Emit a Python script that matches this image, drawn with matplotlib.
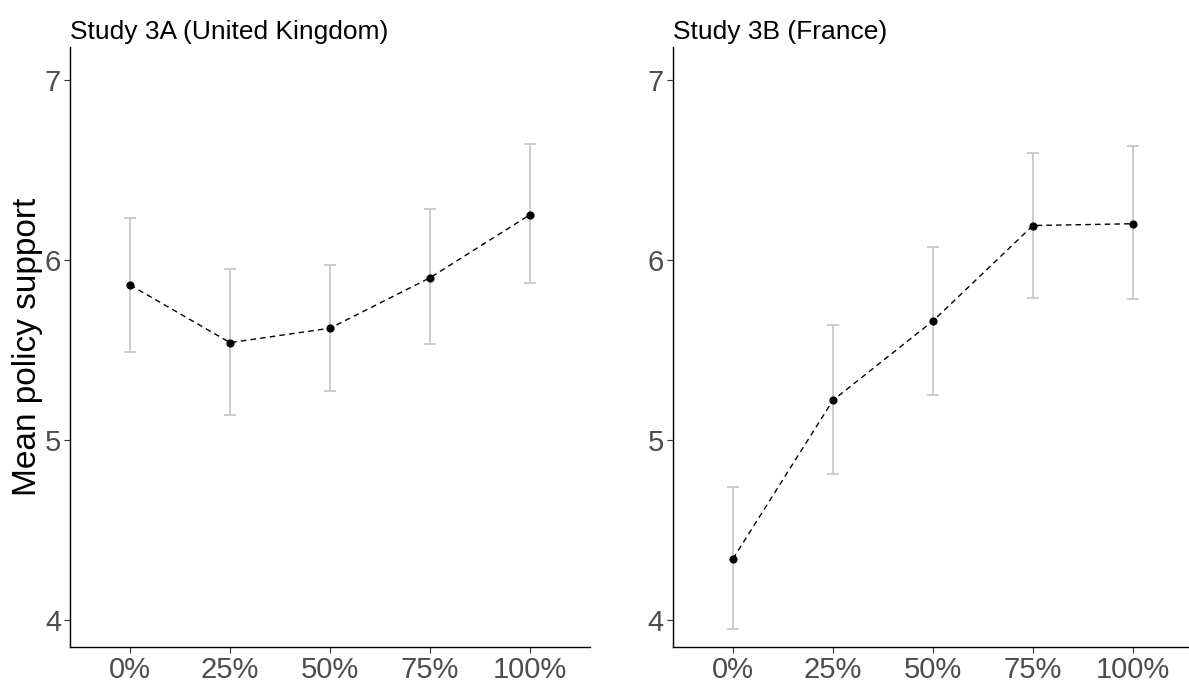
import matplotlib.pyplot as plt
import numpy as np

plt.rcParams['font.family'] = ['Liberation Sans', 'DejaVu Sans']

levels = ['0%', '25%', '50%', '75%', '100%']

# Study 3A (United Kingdom)
uk_mean = [5.86, 5.54, 5.62, 5.90, 6.25]
uk_low = [5.49, 5.14, 5.27, 5.53, 5.87]
uk_high = [6.23, 5.95, 5.97, 6.28, 6.64]

# Study 3B (France)
fr_mean = [4.34, 5.22, 5.66, 6.19, 6.20]
fr_low = [3.95, 4.81, 5.25, 5.79, 5.78]
fr_high = [4.74, 5.64, 6.07, 6.59, 6.63]

titles = ['Study 3A (United Kingdom)', 'Study 3B (France)']
yticks = [4, 5, 6, 7]

fig = plt.figure(figsize=(11.89, 6.84), dpi=100)
ax1 = fig.add_axes([0.0589, 0.054, 0.4373, 0.877])
ax2 = fig.add_axes([0.566, 0.054, 0.4373, 0.877])

panels = [(ax1, uk_mean, uk_low, uk_high), (ax2, fr_mean, fr_low, fr_high)]
for i, (ax, m, lo, hi) in enumerate(panels):
    x = np.arange(len(levels))
    m = np.array(m)
    err = [m - np.array(lo), np.array(hi) - m]
    ax.errorbar(x, m, yerr=err, fmt='none', ecolor='#c8c8c8', elinewidth=1.3,
                capsize=4, capthick=1.3, zorder=1)
    ax.plot(x, m, linestyle=(0, (4, 3)), color='black', linewidth=1.0, zorder=2)
    ax.scatter(x, m, s=24, color='black', zorder=3)

    ax.set_xlim(-0.6, 4.6)
    ax.set_ylim(3.85, 7.18)
    ax.set_xticks(x)
    ax.set_xticklabels(levels)
    ax.set_yticks(yticks)
    ax.tick_params(axis='both', labelsize=21, colors='#333333', length=4,
                   width=0.8, labelcolor='#4d4d4d', pad=2.5)
    for s in ['top', 'right']:
        ax.spines[s].set_visible(False)
    for s in ['left', 'bottom']:
        ax.spines[s].set_linewidth(1.0)
        ax.spines[s].set_color('black')
    ax.set_title(titles[i], loc='left', fontsize=19, pad=6)

ax1.set_ylabel('Mean policy support', fontsize=24, labelpad=1)

fig.savefig('out.png', dpi=100)
